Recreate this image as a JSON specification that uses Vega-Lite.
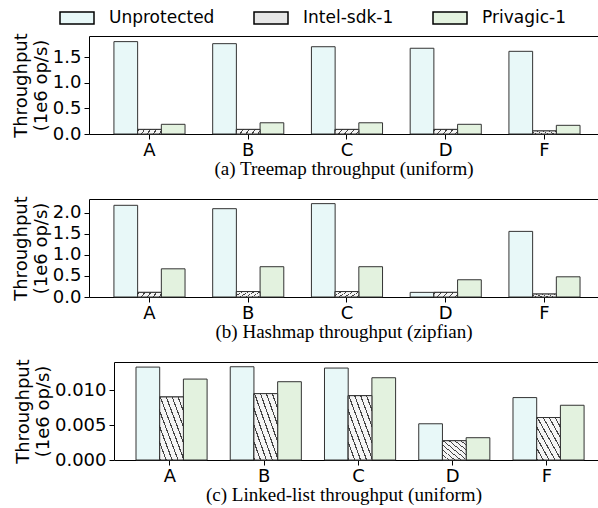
{
  "$schema": "https://vega.github.io/schema/vega-lite/v6.json",
  "padding": {"left": 12, "top": 0, "right": 0, "bottom": 2},
  "spacing": 16,
  "data": {"values": [
    {"panel": "a", "workload": "A", "system": "Unprotected", "value": 1.81},
    {"panel": "a", "workload": "B", "system": "Unprotected", "value": 1.77},
    {"panel": "a", "workload": "C", "system": "Unprotected", "value": 1.71},
    {"panel": "a", "workload": "D", "system": "Unprotected", "value": 1.68},
    {"panel": "a", "workload": "F", "system": "Unprotected", "value": 1.62},
    {"panel": "a", "workload": "A", "system": "Intel-sdk-1", "value": 0.09},
    {"panel": "a", "workload": "B", "system": "Intel-sdk-1", "value": 0.09},
    {"panel": "a", "workload": "C", "system": "Intel-sdk-1", "value": 0.09},
    {"panel": "a", "workload": "D", "system": "Intel-sdk-1", "value": 0.09},
    {"panel": "a", "workload": "F", "system": "Intel-sdk-1", "value": 0.06},
    {"panel": "a", "workload": "A", "system": "Privagic-1", "value": 0.19},
    {"panel": "a", "workload": "B", "system": "Privagic-1", "value": 0.22},
    {"panel": "a", "workload": "C", "system": "Privagic-1", "value": 0.22},
    {"panel": "a", "workload": "D", "system": "Privagic-1", "value": 0.19},
    {"panel": "a", "workload": "F", "system": "Privagic-1", "value": 0.17},
    {"panel": "b", "workload": "A", "system": "Unprotected", "value": 2.18},
    {"panel": "b", "workload": "B", "system": "Unprotected", "value": 2.10},
    {"panel": "b", "workload": "C", "system": "Unprotected", "value": 2.22},
    {"panel": "b", "workload": "D", "system": "Unprotected", "value": 0.11},
    {"panel": "b", "workload": "F", "system": "Unprotected", "value": 1.56},
    {"panel": "b", "workload": "A", "system": "Intel-sdk-1", "value": 0.11},
    {"panel": "b", "workload": "B", "system": "Intel-sdk-1", "value": 0.13},
    {"panel": "b", "workload": "C", "system": "Intel-sdk-1", "value": 0.13},
    {"panel": "b", "workload": "D", "system": "Intel-sdk-1", "value": 0.11},
    {"panel": "b", "workload": "F", "system": "Intel-sdk-1", "value": 0.07},
    {"panel": "b", "workload": "A", "system": "Privagic-1", "value": 0.67},
    {"panel": "b", "workload": "B", "system": "Privagic-1", "value": 0.72},
    {"panel": "b", "workload": "C", "system": "Privagic-1", "value": 0.72},
    {"panel": "b", "workload": "D", "system": "Privagic-1", "value": 0.41},
    {"panel": "b", "workload": "F", "system": "Privagic-1", "value": 0.48},
    {"panel": "c", "workload": "A", "system": "Unprotected", "value": 0.01334},
    {"panel": "c", "workload": "B", "system": "Unprotected", "value": 0.01339},
    {"panel": "c", "workload": "C", "system": "Unprotected", "value": 0.0132},
    {"panel": "c", "workload": "D", "system": "Unprotected", "value": 0.0052},
    {"panel": "c", "workload": "F", "system": "Unprotected", "value": 0.00896},
    {"panel": "c", "workload": "A", "system": "Intel-sdk-1", "value": 0.00905},
    {"panel": "c", "workload": "B", "system": "Intel-sdk-1", "value": 0.00953},
    {"panel": "c", "workload": "C", "system": "Intel-sdk-1", "value": 0.00924},
    {"panel": "c", "workload": "D", "system": "Intel-sdk-1", "value": 0.00277},
    {"panel": "c", "workload": "F", "system": "Intel-sdk-1", "value": 0.0061},
    {"panel": "c", "workload": "A", "system": "Privagic-1", "value": 0.01162},
    {"panel": "c", "workload": "B", "system": "Privagic-1", "value": 0.01124},
    {"panel": "c", "workload": "C", "system": "Privagic-1", "value": 0.01181},
    {"panel": "c", "workload": "D", "system": "Privagic-1", "value": 0.0032},
    {"panel": "c", "workload": "F", "system": "Privagic-1", "value": 0.00786}
  ]},
  "config": {
    "view": {"stroke": null},
    "axis": {
      "domainColor": "#000", "domainWidth": 1, "tickColor": "#000", "tickSize": 5, "tickWidth": 1,
      "labelColor": "#000", "labelFont": "DejaVu Sans", "labelFontSize": 18, "labelOverlap": false,
      "titleColor": "#000", "titleFont": "DejaVu Sans", "titleFontSize": 18, "titleFontWeight": "normal",
      "grid": false
    },
    "title": {"font": "Liberation Serif", "fontSize": 19, "fontWeight": "normal", "color": "#000"},
    "legend": {
      "labelFont": "DejaVu Sans", "labelFontSize": 17, "labelColor": "#000",
      "symbolType": "M-1,-0.35L1,-0.35L1,0.35L-1,0.35Z", "symbolSize": 1156,
      "symbolStrokeColor": "#000", "symbolStrokeWidth": 1.5, "symbolOpacity": 1,
      "labelOffset": 14, "columnPadding": 36
    }
  },
  "vconcat": [
    {
      "width": 510, "height": 98,
      "transform": [{"filter": "datum.panel == 'a'"}],
      "title": {"text": "(a) Treemap throughput (uniform)", "orient": "bottom", "frame": "group", "anchor": "middle", "offset": 1},
      "layer": [
        {
          "mark": {"type": "bar", "stroke": "#333", "strokeWidth": 1},
          "encoding": {
            "x": {"field": "workload", "type": "nominal", "title": null,
              "scale": {"paddingInner": 0.28, "paddingOuter": 0.2223, "align": 0.568},
              "axis": {"labelAngle": 0, "labelPadding": 2}},
            "xOffset": {"field": "system", "type": "nominal", "scale": {"domain": ["Unprotected", "Intel-sdk-1", "Privagic-1"], "paddingInner": 0, "paddingOuter": 0}},
            "y": {"field": "value", "type": "quantitative", "scale": {"domain": [0, 1.92], "nice": false, "zero": true},
              "axis": {"title": ["Throughput", "(1e6 op/s)"], "titleLineHeight": 20, "titlePadding": 2, "values": [0, 0.5, 1, 1.5], "format": ".1f", "labelPadding": 3}},
            "color": {"field": "system", "type": "nominal",
              "scale": {"domain": ["Unprotected", "Intel-sdk-1", "Privagic-1"], "range": ["#e8f8f8", "#e6e6e6", "#e3f2df"]},
              "legend": {"title": null, "orient": "none", "direction": "horizontal", "legendX": -30, "legendY": -36}}
          }
        },
        {
          "transform": [{"filter": "datum.system == 'Intel-sdk-1'"}],
          "mark": {"type": "bar", "stroke": "#333", "strokeWidth": 1,
            "fill": {"gradient": "linear", "x1": 1, "y1": 0, "x2": 0, "y2": 1, "stops": [
              {"offset": 0, "color": "#f5f5f5"}, {"offset": 0.1, "color": "#f5f5f5"}, {"offset": 0.1, "color": "#444"}, {"offset": 0.125, "color": "#444"},
              {"offset": 0.125, "color": "#f5f5f5"}, {"offset": 0.225, "color": "#f5f5f5"}, {"offset": 0.225, "color": "#444"}, {"offset": 0.25, "color": "#444"},
              {"offset": 0.25, "color": "#f5f5f5"}, {"offset": 0.35, "color": "#f5f5f5"}, {"offset": 0.35, "color": "#444"}, {"offset": 0.375, "color": "#444"},
              {"offset": 0.375, "color": "#f5f5f5"}, {"offset": 0.475, "color": "#f5f5f5"}, {"offset": 0.475, "color": "#444"}, {"offset": 0.5, "color": "#444"},
              {"offset": 0.5, "color": "#f5f5f5"}, {"offset": 0.6, "color": "#f5f5f5"}, {"offset": 0.6, "color": "#444"}, {"offset": 0.625, "color": "#444"},
              {"offset": 0.625, "color": "#f5f5f5"}, {"offset": 0.725, "color": "#f5f5f5"}, {"offset": 0.725, "color": "#444"}, {"offset": 0.75, "color": "#444"},
              {"offset": 0.75, "color": "#f5f5f5"}, {"offset": 0.85, "color": "#f5f5f5"}, {"offset": 0.85, "color": "#444"}, {"offset": 0.875, "color": "#444"},
              {"offset": 0.875, "color": "#f5f5f5"}, {"offset": 0.975, "color": "#f5f5f5"}, {"offset": 0.975, "color": "#444"}, {"offset": 1, "color": "#444"}
            ]}},
          "encoding": {
            "x": {"field": "workload", "type": "nominal", "title": null, "axis": null},
            "xOffset": {"field": "system", "type": "nominal", "scale": {"domain": ["Unprotected", "Intel-sdk-1", "Privagic-1"], "paddingInner": 0, "paddingOuter": 0}},
            "y": {"field": "value", "type": "quantitative",
              "axis": {"title": ["Throughput", "(1e6 op/s)"], "titleLineHeight": 20, "titlePadding": 2, "values": [0, 0.5, 1, 1.5], "format": ".1f", "labelPadding": 3}}
          }
        },
        {
          "mark": {"type": "rule", "opacity": 0},
          "encoding": {
            "x": {"field": "workload", "type": "nominal", "title": null,
              "axis": {"orient": "top", "labels": false, "ticks": false, "title": null}}
          }
        }
      ],
      "resolve": {"axis": {"x": "independent"}}
    },
    {
      "width": 510, "height": 98,
      "transform": [{"filter": "datum.panel == 'b'"}],
      "title": {"text": "(b) Hashmap throughput (zipfian)", "orient": "bottom", "frame": "group", "anchor": "middle", "offset": 1},
      "layer": [
        {
          "mark": {"type": "bar", "stroke": "#333", "strokeWidth": 1},
          "encoding": {
            "x": {"field": "workload", "type": "nominal", "title": null,
              "scale": {"paddingInner": 0.28, "paddingOuter": 0.2223, "align": 0.568},
              "axis": {"labelAngle": 0, "labelPadding": 2}},
            "xOffset": {"field": "system", "type": "nominal", "scale": {"domain": ["Unprotected", "Intel-sdk-1", "Privagic-1"], "paddingInner": 0, "paddingOuter": 0}},
            "y": {"field": "value", "type": "quantitative", "scale": {"domain": [0, 2.33], "nice": false, "zero": true},
              "axis": {"title": ["Throughput", "(1e6 op/s)"], "titleLineHeight": 20, "titlePadding": 2, "values": [0, 0.5, 1, 1.5, 2], "format": ".1f", "labelPadding": 3}},
            "color": {"field": "system", "type": "nominal",
              "scale": {"domain": ["Unprotected", "Intel-sdk-1", "Privagic-1"], "range": ["#e8f8f8", "#e6e6e6", "#e3f2df"]},
              "legend": {"title": null, "orient": "none", "direction": "horizontal", "legendX": -30, "legendY": -36}}
          }
        },
        {
          "transform": [{"filter": "datum.system == 'Intel-sdk-1'"}],
          "mark": {"type": "bar", "stroke": "#333", "strokeWidth": 1,
            "fill": {"gradient": "linear", "x1": 1, "y1": 0, "x2": 0, "y2": 1, "stops": [
              {"offset": 0, "color": "#f5f5f5"}, {"offset": 0.1, "color": "#f5f5f5"}, {"offset": 0.1, "color": "#444"}, {"offset": 0.125, "color": "#444"},
              {"offset": 0.125, "color": "#f5f5f5"}, {"offset": 0.225, "color": "#f5f5f5"}, {"offset": 0.225, "color": "#444"}, {"offset": 0.25, "color": "#444"},
              {"offset": 0.25, "color": "#f5f5f5"}, {"offset": 0.35, "color": "#f5f5f5"}, {"offset": 0.35, "color": "#444"}, {"offset": 0.375, "color": "#444"},
              {"offset": 0.375, "color": "#f5f5f5"}, {"offset": 0.475, "color": "#f5f5f5"}, {"offset": 0.475, "color": "#444"}, {"offset": 0.5, "color": "#444"},
              {"offset": 0.5, "color": "#f5f5f5"}, {"offset": 0.6, "color": "#f5f5f5"}, {"offset": 0.6, "color": "#444"}, {"offset": 0.625, "color": "#444"},
              {"offset": 0.625, "color": "#f5f5f5"}, {"offset": 0.725, "color": "#f5f5f5"}, {"offset": 0.725, "color": "#444"}, {"offset": 0.75, "color": "#444"},
              {"offset": 0.75, "color": "#f5f5f5"}, {"offset": 0.85, "color": "#f5f5f5"}, {"offset": 0.85, "color": "#444"}, {"offset": 0.875, "color": "#444"},
              {"offset": 0.875, "color": "#f5f5f5"}, {"offset": 0.975, "color": "#f5f5f5"}, {"offset": 0.975, "color": "#444"}, {"offset": 1, "color": "#444"}
            ]}},
          "encoding": {
            "x": {"field": "workload", "type": "nominal", "title": null, "axis": null},
            "xOffset": {"field": "system", "type": "nominal", "scale": {"domain": ["Unprotected", "Intel-sdk-1", "Privagic-1"], "paddingInner": 0, "paddingOuter": 0}},
            "y": {"field": "value", "type": "quantitative",
              "axis": {"title": ["Throughput", "(1e6 op/s)"], "titleLineHeight": 20, "titlePadding": 2, "values": [0, 0.5, 1, 1.5, 2], "format": ".1f", "labelPadding": 3}}
          }
        },
        {
          "mark": {"type": "rule", "opacity": 0},
          "encoding": {
            "x": {"field": "workload", "type": "nominal", "title": null,
              "axis": {"orient": "top", "labels": false, "ticks": false, "title": null}}
          }
        }
      ],
      "resolve": {"axis": {"x": "independent"}}
    },
    {
      "width": 510, "height": 98,
      "transform": [{"filter": "datum.panel == 'c'"}],
      "title": {"text": "(c) Linked-list throughput (uniform)", "orient": "bottom", "frame": "group", "anchor": "middle", "offset": 1},
      "layer": [
        {
          "mark": {"type": "bar", "stroke": "#333", "strokeWidth": 1},
          "encoding": {
            "x": {"field": "workload", "type": "nominal", "title": null,
              "scale": {"paddingInner": 0.28, "paddingOuter": 0.213, "align": 0.548, "rangeMin": 25},
              "axis": {"labelAngle": 0, "labelPadding": 2}},
            "xOffset": {"field": "system", "type": "nominal", "scale": {"domain": ["Unprotected", "Intel-sdk-1", "Privagic-1"], "paddingInner": 0, "paddingOuter": 0}},
            "y": {"field": "value", "type": "quantitative", "scale": {"domain": [0, 0.01407], "nice": false, "zero": true},
              "axis": {"title": ["Throughput", "(1e6 op/s)"], "titleLineHeight": 20, "titlePadding": 2, "values": [0, 0.005, 0.01], "format": ".3f", "labelPadding": 3, "offset": -25}},
            "color": {"field": "system", "type": "nominal",
              "scale": {"domain": ["Unprotected", "Intel-sdk-1", "Privagic-1"], "range": ["#e8f8f8", "#e6e6e6", "#e3f2df"]},
              "legend": {"title": null, "orient": "none", "direction": "horizontal", "legendX": -30, "legendY": -36}}
          }
        },
        {
          "transform": [{"filter": "datum.system == 'Intel-sdk-1'"}],
          "mark": {"type": "bar", "stroke": "#333", "strokeWidth": 1,
            "fill": {"gradient": "linear", "x1": 1, "y1": 0, "x2": 0, "y2": 1, "stops": [
              {"offset": 0, "color": "#f5f5f5"}, {"offset": 0.1, "color": "#f5f5f5"}, {"offset": 0.1, "color": "#444"}, {"offset": 0.125, "color": "#444"},
              {"offset": 0.125, "color": "#f5f5f5"}, {"offset": 0.225, "color": "#f5f5f5"}, {"offset": 0.225, "color": "#444"}, {"offset": 0.25, "color": "#444"},
              {"offset": 0.25, "color": "#f5f5f5"}, {"offset": 0.35, "color": "#f5f5f5"}, {"offset": 0.35, "color": "#444"}, {"offset": 0.375, "color": "#444"},
              {"offset": 0.375, "color": "#f5f5f5"}, {"offset": 0.475, "color": "#f5f5f5"}, {"offset": 0.475, "color": "#444"}, {"offset": 0.5, "color": "#444"},
              {"offset": 0.5, "color": "#f5f5f5"}, {"offset": 0.6, "color": "#f5f5f5"}, {"offset": 0.6, "color": "#444"}, {"offset": 0.625, "color": "#444"},
              {"offset": 0.625, "color": "#f5f5f5"}, {"offset": 0.725, "color": "#f5f5f5"}, {"offset": 0.725, "color": "#444"}, {"offset": 0.75, "color": "#444"},
              {"offset": 0.75, "color": "#f5f5f5"}, {"offset": 0.85, "color": "#f5f5f5"}, {"offset": 0.85, "color": "#444"}, {"offset": 0.875, "color": "#444"},
              {"offset": 0.875, "color": "#f5f5f5"}, {"offset": 0.975, "color": "#f5f5f5"}, {"offset": 0.975, "color": "#444"}, {"offset": 1, "color": "#444"}
            ]}},
          "encoding": {
            "x": {"field": "workload", "type": "nominal", "title": null, "axis": null},
            "xOffset": {"field": "system", "type": "nominal", "scale": {"domain": ["Unprotected", "Intel-sdk-1", "Privagic-1"], "paddingInner": 0, "paddingOuter": 0}},
            "y": {"field": "value", "type": "quantitative",
              "axis": {"title": ["Throughput", "(1e6 op/s)"], "titleLineHeight": 20, "titlePadding": 2, "values": [0, 0.005, 0.01], "format": ".3f", "labelPadding": 3, "offset": -25}}
          }
        },
        {
          "mark": {"type": "rule", "opacity": 0},
          "encoding": {
            "x": {"field": "workload", "type": "nominal", "title": null,
              "axis": {"orient": "top", "labels": false, "ticks": false, "title": null}}
          }
        }
      ],
      "resolve": {"axis": {"x": "independent"}}
    }
  ]
}
